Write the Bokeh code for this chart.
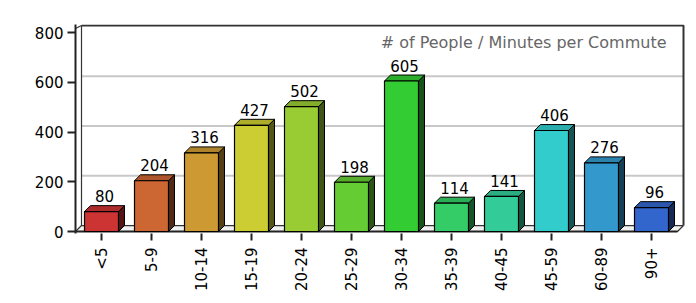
import numpy as np
from bokeh.plotting import figure
from bokeh.models import ColumnDataSource, FixedTicker, Range1d
from bokeh.core.properties import value
from bokeh.embed import file_html
from bokeh.resources import INLINE

categories = ["<5", "5-9", "10-14", "15-19", "20-24", "25-29", "30-34",
              "35-39", "40-45", "45-59", "60-89", "90+"]
people = [80, 204, 316, 427, 502, 198, 605, 114, 141, 406, 276, 96]
colors = ["#cc3333", "#cc6633", "#cc9933", "#cccc33", "#99cc33", "#66cc33",
          "#33cc33", "#33cc66", "#33cc99", "#33cccc", "#3399cc", "#3366cc"]
y_ticks = [0, 200, 400, 600, 800]
title_text = "# of People / Minutes per Commute"

FONT = "DejaVu Sans"
DX = 0.12   # depth offset in x units
DY = 24     # depth offset in y units
HW = 0.34   # half bar width


def shade(h, f):
    r, g, b = int(h[1:3], 16), int(h[3:5], 16), int(h[5:7], 16)
    return "#%02x%02x%02x" % (int(r * f), int(g * f), int(b * f))


n = len(categories)
xc = [i + 0.5 for i in range(n)]
x_start, x_end = -0.02, 12.2
y_start, y_end = -8.04, 832.2
wall_l, wall_r, wall_t = x_start + DX, 12.02 + DX, 828

p = figure(frame_width=611, frame_height=209,
           x_range=Range1d(x_start, x_end), y_range=Range1d(y_start, y_end),
           output_backend="svg", toolbar_location=None,
           min_border_left=75, min_border_right=10, min_border_top=24,
           min_border_bottom=70)
p.grid.visible = False
p.outline_line_color = None
p.background_fill_color = "white"
p.border_fill_color = "white"

# back wall
p.quad(left=[wall_l], right=[wall_r], bottom=[DY], top=[wall_t],
       fill_color="white", line_color=None)
# grid lines on back wall
for t in y_ticks[1:-1]:
    p.line([wall_l, wall_r], [t + DY, t + DY], line_color="#c8c8c8", line_width=2)
# wall borders
p.line([wall_l, wall_r, wall_r], [wall_t, wall_t, DY], line_color="#333333", line_width=2)
p.line([wall_l, wall_l], [DY, wall_t], line_color="#333333", line_width=1.2)
p.line([x_start, wall_l], [816, wall_t], line_color="#333333", line_width=1.2)

# floor
p.patch([x_start, 12.02, 12.02 + DX, wall_l], [0, 0, DY, DY],
        fill_color="#f2f2f2", line_color="#333333", line_width=1.2)
p.line([x_start, 12.02], [0, 0], line_color="#222222", line_width=2)

# bars
left = [c - HW for c in xc]
right = [c + HW for c in xc]
side_xs = [[r, r + DX, r + DX, r] for r in right]
side_ys = [[0, DY, v + DY, v] for v in people]
top_xs = [[l, l + DX, r + DX, r] for l, r in zip(left, right)]
top_ys = [[v, v + DY, v + DY, v] for v in people]

p.patches(side_xs, side_ys, fill_color=[shade(c, 0.42) for c in colors],
          line_color="black", line_width=1)
p.patches(top_xs, top_ys, fill_color=[shade(c, 0.85) for c in colors],
          line_color="black", line_width=1)
p.quad(left=left, right=right, bottom=[0] * n, top=people, fill_color=colors,
       line_color="black", line_width=1.2)

# value labels
src = ColumnDataSource(dict(x=[c + DX / 2 for c in xc], y=[v + DY + 14 for v in people],
                            t=[str(v) for v in people]))
p.text(x="x", y="y", text="t", source=src, text_align="center",
       text_baseline="bottom", text_font=value(FONT), text_font_size="15px",
       text_color="black")

# title inside plot
p.text(x=[11.8], y=[760], text=[title_text], text_align="right",
       text_baseline="middle", text_font=value(FONT), text_font_size="16px",
       text_color="#666666")

# axes
ya = p.yaxis[0]
ya.ticker = FixedTicker(ticks=y_ticks)
ya.major_tick_out = 8
ya.major_tick_in = 0
ya.minor_tick_line_color = None
ya.major_tick_line_width = 2
ya.axis_line_width = 2
ya.axis_line_color = "#222222"
ya.major_tick_line_color = "#222222"
ya.major_label_text_font = FONT
ya.major_label_text_font_size = "15px"
ya.major_label_text_color = "black"
ya.major_label_standoff = 4

xa = p.xaxis[0]
xa.ticker = FixedTicker(ticks=xc)
xa.major_label_overrides = {x: c for x, c in zip(xc, categories)}
xa.axis_line_color = None
xa.major_tick_out = 7
xa.major_tick_in = 0
xa.minor_tick_line_color = None
xa.major_tick_line_width = 2
xa.major_tick_line_color = "#222222"
xa.major_label_orientation = np.pi / 2
xa.major_label_text_font = FONT
xa.major_label_text_font_size = "15px"
xa.major_label_text_color = "black"
xa.major_label_standoff = 7

open("out.html", "w").write(file_html(p, INLINE))
